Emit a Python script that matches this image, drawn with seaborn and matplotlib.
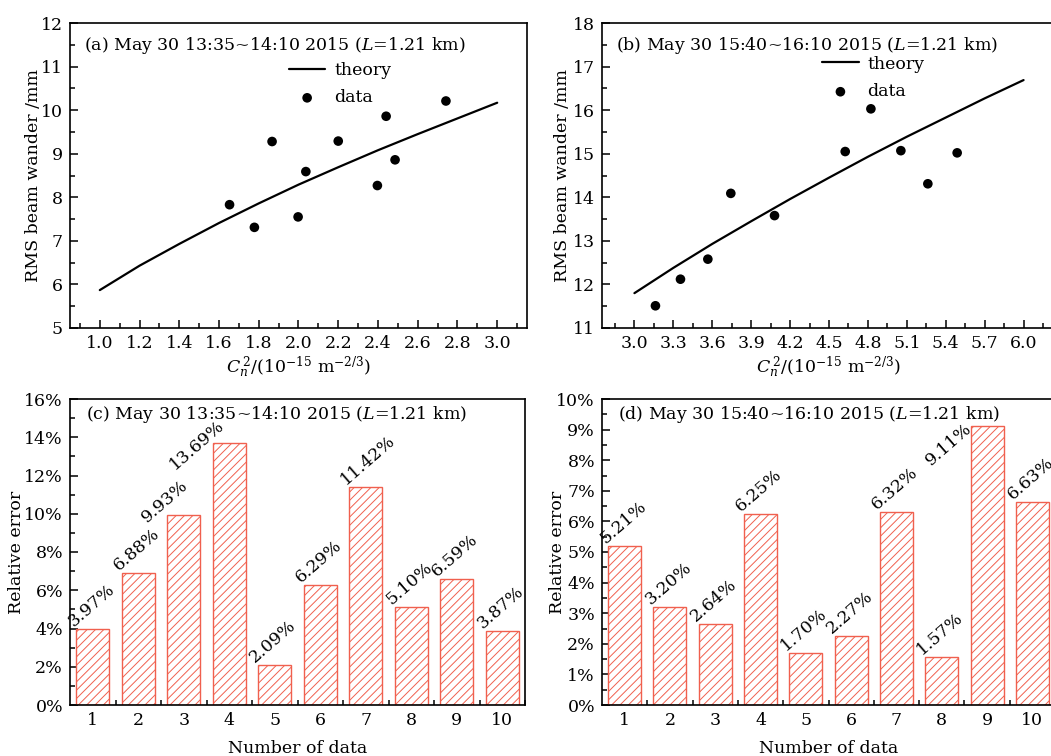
import numpy as np
import pandas as pd
import matplotlib
matplotlib.use("Agg")
import matplotlib.pyplot as plt
from matplotlib.ticker import MultipleLocator, FixedLocator, FormatStrFormatter
import seaborn as sns

# ─────────────────────────────────────────────
# data
# ─────────────────────────────────────────────
# (a) May 30 13:35~14:10
cn2_a = [1.653, 1.778, 1.867, 1.998, 2.037, 2.200, 2.397, 2.441, 2.486, 2.742]
wander_a = [7.83, 7.31, 9.28, 7.55, 8.59, 9.29, 8.27, 9.86, 8.86, 10.21]
theory_x_a = [1.0, 1.2, 1.4, 1.6, 1.8, 2.0, 2.2, 2.4, 2.6, 2.8, 3.0]
theory_y_a = [5.87, 6.43, 6.93, 7.41, 7.86, 8.29, 8.69, 9.08, 9.45, 9.81, 10.17]

# (b) May 30 15:40~16:10
cn2_b = [3.162, 3.355, 3.566, 3.743, 4.080, 4.625, 4.823, 5.054, 5.262, 5.488]
wander_b = [11.51, 12.12, 12.58, 14.09, 13.58, 15.05, 16.03, 15.07, 14.31, 15.02]
theory_x_b = [3.0, 3.3, 3.6, 3.9, 4.2, 4.5, 4.8, 5.1, 5.4, 5.7, 6.0]
theory_y_b = [11.80, 12.38, 12.93, 13.45, 13.96, 14.45, 14.93, 15.39, 15.83, 16.27, 16.69]

# (c), (d) relative error in %
data_no = [1, 2, 3, 4, 5, 6, 7, 8, 9, 10]
err_c = [3.97, 6.88, 9.93, 13.69, 2.09, 6.29, 11.42, 5.10, 6.59, 3.87]
err_d = [5.21, 3.20, 2.64, 6.25, 1.70, 2.27, 6.32, 1.57, 9.11, 6.63]

title_a = "(a) May 30 13:35~14:10 2015 ($L$=1.21 km)"
title_b = "(b) May 30 15:40~16:10 2015 ($L$=1.21 km)"
title_c = "(c) May 30 13:35~14:10 2015 ($L$=1.21 km)"
title_d = "(d) May 30 15:40~16:10 2015 ($L$=1.21 km)"

# ─────────────────────────────────────────────
# style
# ─────────────────────────────────────────────
sns.set_style("ticks")
plt.rcParams["font.family"] = ["DejaVu Serif"]
plt.rcParams["mathtext.fontset"] = "dejavuserif"
plt.rcParams["font.size"] = 12.5
plt.rcParams["axes.linewidth"] = 1.2
plt.rcParams["hatch.linewidth"] = 0.7
plt.rcParams["hatch.color"] = "#f47a6c"
for key in ["text.color", "axes.labelcolor", "xtick.color", "ytick.color",
            "axes.edgecolor"]:
    plt.rcParams[key] = "black"

FS = 12.5
RED = "#f0604e"
BAR_W = 0.73

fig = plt.figure(figsize=(10.51, 7.56), dpi=100)
W, H = 1051, 756


def px_axes(left, top, width, height):
    return fig.add_axes([left / W, 1 - (top + height) / H, width / W, height / H])


ax_a = px_axes(70, 23, 457, 305)
ax_b = px_axes(602, 23, 454, 305)
ax_c = px_axes(70, 399, 455, 306)
ax_d = px_axes(602, 399, 453, 306)


def style_axes(ax):
    for s in ["top", "right", "left", "bottom"]:
        ax.spines[s].set_visible(True)
        ax.spines[s].set_linewidth(1.2)
    ax.tick_params(which="both", direction="in", top=False, right=False,
                   labelsize=FS, width=1.1, pad=5)
    ax.tick_params(which="major", length=6)
    ax.tick_params(which="minor", length=3.5)


xlab = "$C_n^{\\,2}$/(10$^{-15}$ m$^{-2/3}$)"

# ─────────────────────────────────────────────
# scatter panels
# ─────────────────────────────────────────────
def wander_panel(ax, tx, ty, cx, cy, xlim, ylim, xmaj, title, leg_xy, ylab_x):
    sns.lineplot(x=tx, y=ty, ax=ax, color="black", lw=1.6, label="theory")
    sns.scatterplot(x=cx, y=cy, ax=ax, color="black", s=48, edgecolor="none",
                    label="data")
    ax.set_xlim(*xlim)
    ax.set_ylim(*ylim)
    ax.xaxis.set_major_locator(MultipleLocator(xmaj))
    ax.xaxis.set_minor_locator(MultipleLocator(xmaj / 2))
    ax.yaxis.set_major_locator(MultipleLocator(1))
    ax.yaxis.set_minor_locator(MultipleLocator(0.5))
    ax.xaxis.set_major_formatter(FormatStrFormatter("%.1f"))
    ax.set_xlabel(xlab, fontsize=FS, labelpad=2)
    ax.set_ylabel("RMS beam wander /mm", fontsize=FS)
    ax.yaxis.set_label_coords(ylab_x, 0.5)
    ax.text(0.03, 0.925, title, transform=ax.transAxes, fontsize=FS,
            ha="left", va="center")
    ax.legend(loc="center left", bbox_to_anchor=leg_xy, frameon=False,
              fontsize=FS, handlelength=2.1, handletextpad=0.5,
              labelspacing=0.62, borderpad=0, borderaxespad=0)
    style_axes(ax)


wander_panel(ax_a, theory_x_a, theory_y_a, cn2_a, wander_a,
             (0.85, 3.15), (5, 12), 0.2, title_a, (0.479, 0.80), -0.062)
wander_panel(ax_b, theory_x_b, theory_y_b, cn2_b, wander_b,
             (2.75, 6.25), (11, 18), 0.3, title_b, (0.485, 0.82), -0.069)

# ─────────────────────────────────────────────
# bar panels
# ─────────────────────────────────────────────
# label start relative to bar top-left corner, in pixels (a few were moved by hand)
LABEL_SHIFT_C = {2: (-20, -8), 3: (-38, -27)}
LABEL_SHIFT_D = {8: (-40, -40)}


def error_panel(ax, values, ymax, ymaj, title, shifts, ylab_x):
    df = pd.DataFrame({"n": data_no, "err": values})
    sns.barplot(data=df, x="n", y="err", ax=ax, color="white", saturation=1,
                width=BAR_W, edgecolor=RED, linewidth=1.0, hatch="////",
                errorbar=None)
    ax.set_xlim(-0.5, len(data_no) - 0.5)
    ax.set_ylim(0, ymax)
    ax.xaxis.set_major_locator(FixedLocator(np.arange(len(data_no))))
    ax.set_xticklabels([str(n) for n in data_no])
    ax.xaxis.set_minor_locator(FixedLocator(np.arange(len(data_no)) + 0.5))
    ax.yaxis.set_major_locator(MultipleLocator(ymaj))
    ax.yaxis.set_minor_locator(MultipleLocator(ymaj / 2))
    ax.set_yticklabels([f"{v:g}%" for v in ax.get_yticks()])
    ax.set_xlabel("Number of data", fontsize=FS, labelpad=8)
    ax.set_ylabel("Relative error", fontsize=FS)
    ax.yaxis.set_label_coords(ylab_x, 0.5)
    ax.text(0.035, 0.948, title, transform=ax.transAxes, fontsize=FS,
            ha="left", va="center")
    for i, v in enumerate(values):
        dx, dy = shifts.get(i, (-3, 2))
        ax.annotate(f"{v:.2f}%", xy=(i - BAR_W / 2, v), xycoords="data",
                    xytext=(dx * 0.72, dy * 0.72), textcoords="offset points",
                    rotation=41, rotation_mode="anchor", ha="left",
                    va="baseline", fontsize=FS, annotation_clip=False)
    style_axes(ax)


error_panel(ax_c, err_c, 16, 2, title_c, LABEL_SHIFT_C, -0.099)
error_panel(ax_d, err_d, 10, 1, title_d, LABEL_SHIFT_D, -0.080)

fig.savefig("out.png", dpi=100)
